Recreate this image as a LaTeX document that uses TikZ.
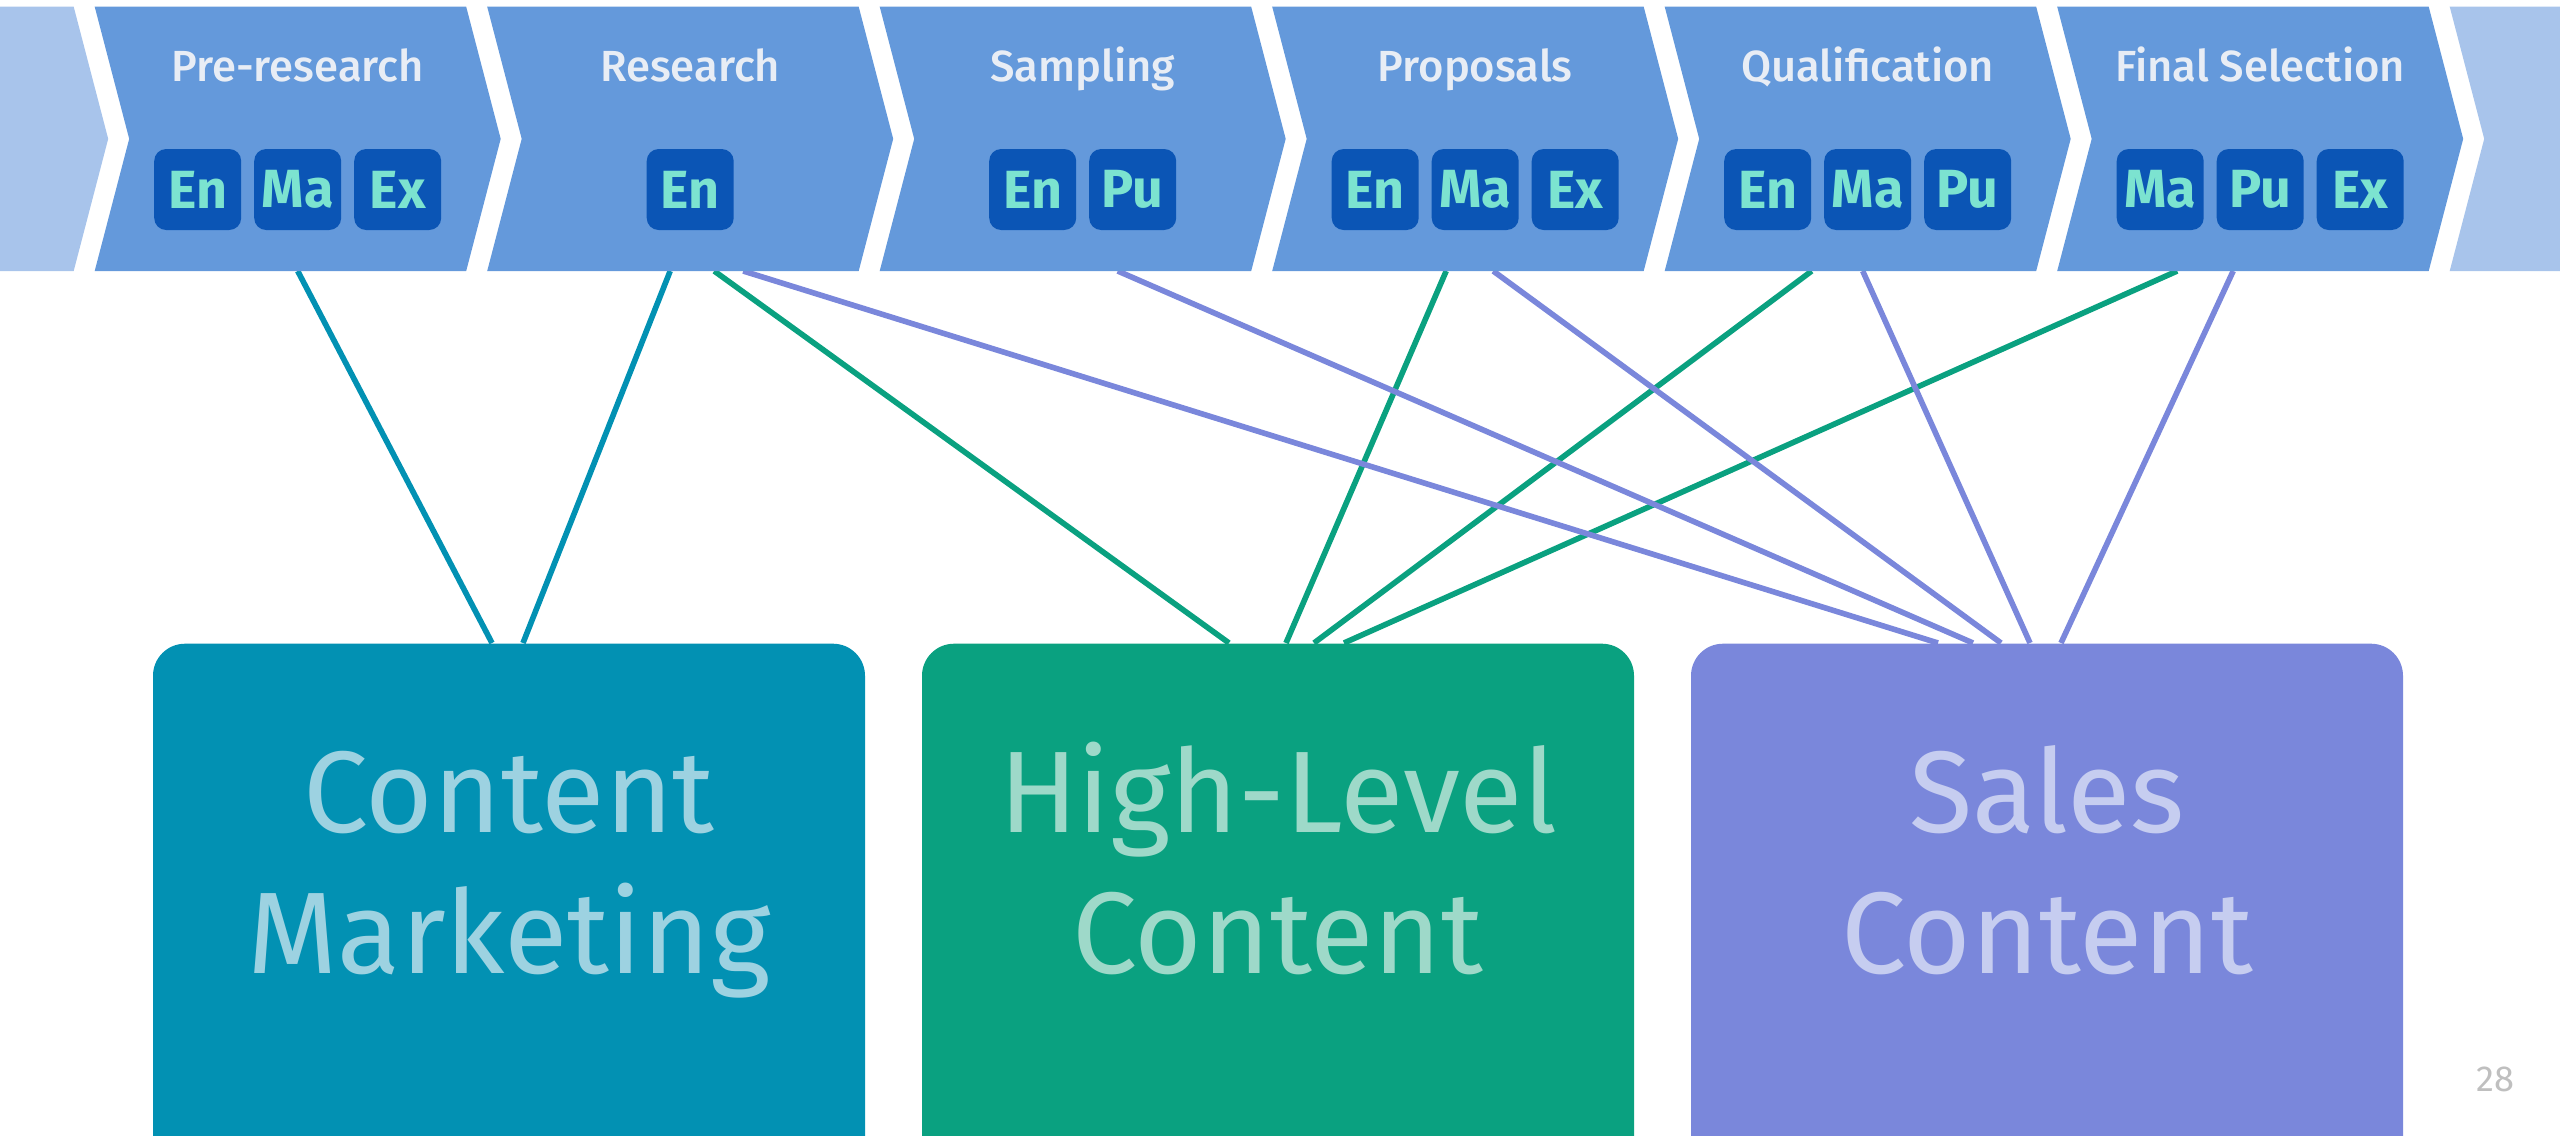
\documentclass[tikz,border=0pt]{standalone}
\usepackage{fontspec}
\setmainfont{Fira Sans}
\newfontfamily\titlefont{Fira Sans Medium}
\newfontfamily\tagfont{Fira Sans Bold}
\newfontfamily\bigfont{Fira Sans}
\usetikzlibrary{calc}

\definecolor{stage}{HTML}{6499DB}
\definecolor{stagefade}{HTML}{A8C4EB}
\definecolor{stagetext}{HTML}{E8EDF5}
\definecolor{tagfill}{HTML}{0B55B5}
\definecolor{tagtext}{HTML}{7CE3D0}
\definecolor{cmblue}{HTML}{0291B3}
\definecolor{cmtext}{HTML}{9DD2E1}
\definecolor{hlgreen}{HTML}{0AA180}
\definecolor{hltext}{HTML}{9ED9C9}
\definecolor{scviolet}{HTML}{7A87DB}
\definecolor{sctext}{HTML}{C6CDF0}

\tikzset{
  stagetitle/.style={text=stagetext, font=\titlefont\fontsize{12.4}{14}\selectfont, anchor=base},
  tag/.style={fill=tagfill, text=tagtext, rounded corners=1.2mm, minimum width=8.7mm,
    minimum height=8.1mm, inner sep=0pt, font=\tagfont\fontsize{15.3}{17}\selectfont},
  contentbox/.style={rounded corners=3.2mm, minimum width=71.2mm, minimum height=60mm,
    anchor=north, inner sep=0pt},
  boxtext/.style={align=center, anchor=base, font=\bigfont\fontsize{33}{40}\selectfont},
  link/.style={line width=1.6pt}
}

\begin{document}
\begin{tikzpicture}[x=0.1mm, y=-0.1mm]
  \useasboundingbox (0,0) rectangle (2560,1136);
  \clip (0,0) rectangle (2560,1136);

  % stage anchors, bottom middle of each chevron
  \foreach \name [count=\i from 0] in {pre,res,smp,prop,qual,fin}
    \coordinate (\name) at (297.7+392.5*\i, 271);

  % links from stages to the content boxes
  \draw[link, cmblue] ($(pre)+(0,0)$) -- (492,643);
  \draw[link, cmblue] ($(res)+(-20,0)$) -- (523,643);
  \draw[link, hlgreen] ($(res)+(24,0)$) -- (1229,643);
  \draw[link, hlgreen] ($(prop)+(-29,0)$) -- (1286,643);
  \draw[link, hlgreen] ($(qual)+(-56,0)$) -- (1314,643);
  \draw[link, hlgreen] ($(fin)+(-83,0)$) -- (1344,643);
  \draw[link, scviolet] ($(res)+(53,0)$) -- (1938,643);
  \draw[link, scviolet] ($(smp)+(35,0)$) -- (1973,643);
  \draw[link, scviolet] ($(prop)+(18,0)$) -- (2001,643);
  \draw[link, scviolet] ($(qual)+(-5,0)$) -- (2030,643);
  \draw[link, scviolet] ($(fin)+(-27,0)$) -- (2061,643);

  % chevrons, the outer two faded
  \foreach \i in {-1,...,6}{
    \ifnum\i<0 \def\col{stagefade}\else\ifnum\i>5 \def\col{stagefade}\else\def\col{stage}\fi\fi
    \fill[\col] (94.7+392.5*\i,6.7) -- ++(371.5,0) -- ++(34.5,132.15) -- ++(-34.5,132.15)
      -- ++(-371.5,0) -- ++(34.5,-132.15) -- cycle;
  }

  % stage titles and role tags
  \foreach \name/\title/\n/\tags in {pre/Pre-research/3/{En,Ma,Ex}, res/Research/1/{En},
      smp/Sampling/2/{En,Pu}, prop/Proposals/3/{En,Ma,Ex}, qual/Qualification/3/{En,Ma,Pu},
      fin/Final Selection/3/{Ma,Pu,Ex}}{
    \node[stagetitle] (\name-title) at ($(\name)+(0,-189.3)$) {\title};
    \foreach \t [count=\k] in \tags
      \node[tag] (\name-\t) at ($(\name)+({(\k-(\n+1)/2)*100},-81.5)$) {\t};
  }

  % content boxes
  \node[contentbox, fill=cmblue] (cm) at (509,643) {};
  \node[contentbox, fill=hlgreen] (hl) at (1278,643) {};
  \node[contentbox, fill=scviolet] (sc) at (2047,643) {};
  \node[boxtext, text=cmtext] at ($(cm.north)+(0,330)$) {Content\\Marketing};
  \node[boxtext, text=hltext] at ($(hl.north)+(0,330)$) {High-Level\\Content};
  \node[boxtext, text=sctext] at ($(sc.north)+(0,330)$) {Sales\\Content};

  \node[text=black!25, font=\fontsize{10.3}{12}\selectfont] (page) at (2495,1079) {28};
\end{tikzpicture}
\end{document}
